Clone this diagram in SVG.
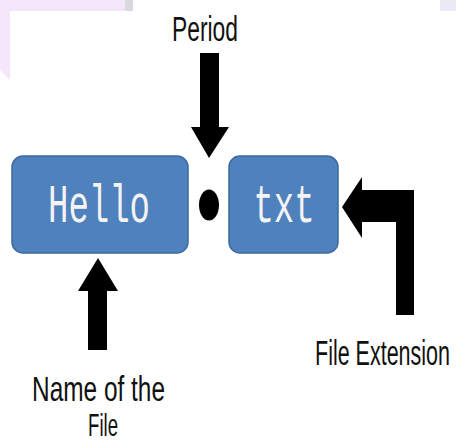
<svg xmlns="http://www.w3.org/2000/svg" width="456" height="444" viewBox="0 0 456 444">
  <style>
    .box { fill: #4F81BD; stroke: #3D6A9E; stroke-width: 1.5; }
    .code { font-family: "Liberation Mono", "Courier New", monospace; font-size: 34px; fill: #F4F4F4; text-anchor: middle; }
    .label { font-family: "Liberation Sans", Arial, sans-serif; font-size: 21.5px; fill: #111; text-anchor: middle; }
    .arrow { fill: #000; }
  </style>
  <rect width="456" height="444" fill="#FFFFFF"/>
  <g id="background">
    <path d="M0 0 H125 V11 H10 V80 L0 70 Z" fill="#F4E6FB"/>
    <rect x="125" y="0" width="8" height="11" fill="#D9D9E0"/>
    <path d="M440 0 H456 V11 H440 Z" fill="#ECEAF6"/>
  </g>
  <g id="connectors">
    <polygon class="arrow" points="200,53 219,53 219,127 229,127 209,158 191,127 200,127"/>
    <polygon class="arrow" points="88,350 107,350 107,291 118,291 98,258 78,291 88,291"/>
    <polygon class="arrow" points="414,315 396,315 396,222 362,222 362,238 342,207 362,177 362,190 414,190"/>
  </g>
  <g id="node-hello">
    <rect class="box" x="12" y="156" width="176" height="97" rx="11"/>
    <g transform="translate(99,222) scale(1,1.6)">
      <text class="code" x="0" y="0">Hello</text>
    </g>
  </g>
  <g id="node-dot">
    <ellipse cx="209" cy="205" rx="10" ry="15.5" fill="#000"/>
  </g>
  <g id="node-txt">
    <rect class="box" x="229" y="156" width="109" height="97" rx="11"/>
    <g transform="translate(284,222) scale(1,1.6)">
      <text class="code" x="0" y="0">txt</text>
    </g>
  </g>
  <g id="label-period">
    <g transform="translate(205,41) scale(1,1.6)">
      <text class="label" x="0" y="0" textLength="66" lengthAdjust="spacingAndGlyphs">Period</text>
    </g>
  </g>
  <g id="label-name">
    <g transform="translate(98.5,401) scale(1,1.6)">
      <text class="label" x="0" y="0" textLength="133" lengthAdjust="spacingAndGlyphs">Name of the</text>
    </g>
    <g transform="translate(103,436) scale(1,1.5)">
      <text class="label" x="0" y="0" textLength="30" lengthAdjust="spacingAndGlyphs">File</text>
    </g>
  </g>
  <g id="label-extension">
    <g transform="translate(382.5,365) scale(1,1.6)">
      <text class="label" x="0" y="0" textLength="135" lengthAdjust="spacingAndGlyphs">File Extension</text>
    </g>
  </g>
</svg>
